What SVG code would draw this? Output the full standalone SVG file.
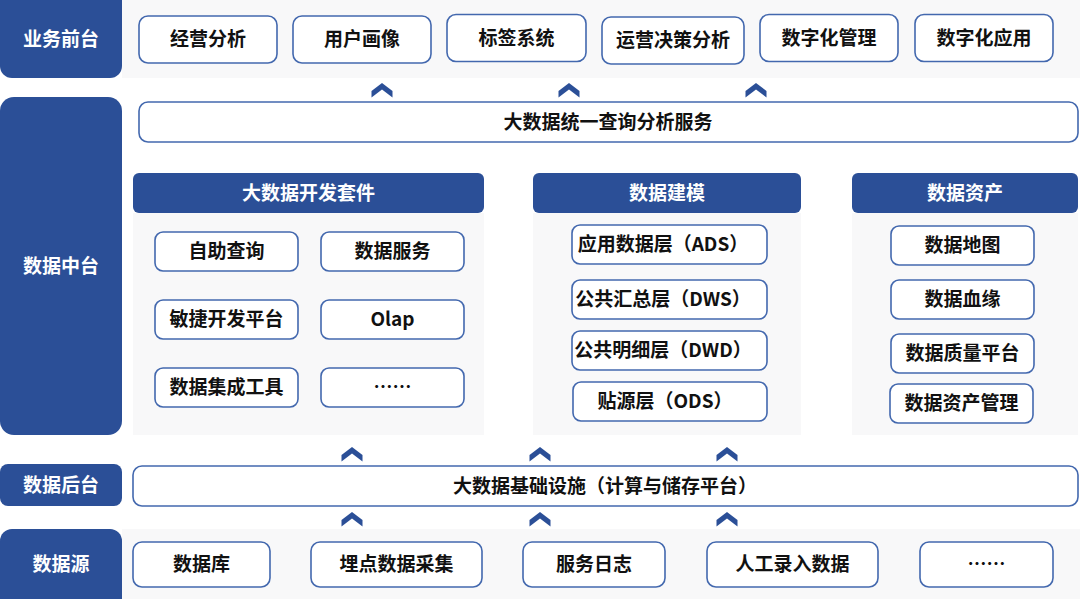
<svg xmlns="http://www.w3.org/2000/svg" width="1080" height="599" viewBox="0 0 1080 599">
<style>
.lab{fill:#2B4F97}
.band{fill:#F8F8F9}
.box{fill:#FFFFFF;stroke:#4368AE;stroke-width:1.6}
.hdr{fill:#2B4F97}
.lt{font-family:"Noto Sans CJK SC","Liberation Sans",sans-serif;font-weight:bold;font-size:19px;fill:#FFFFFF;text-anchor:middle;dominant-baseline:central}
.t{font-family:"Noto Sans CJK SC","Liberation Sans",sans-serif;font-weight:bold;font-size:19px;fill:#111111;text-anchor:middle;dominant-baseline:central}
.chev{fill:#2B4F97}
</style>
<defs>
<polygon id="chev" points="0,0 10.5,8 10.5,14.5 0,6.5 -10.5,14.5 -10.5,8"/>
</defs>
<rect width="1080" height="599" fill="#FFFFFF"/>
<rect class="band" x="122" y="0" width="958" height="78"/>
<rect class="band" x="122" y="529" width="958" height="70"/>
<rect class="band" x="133" y="213" width="351" height="222"/>
<rect class="band" x="533" y="213" width="268" height="222"/>
<rect class="band" x="852" y="213" width="226" height="222"/>

<g id="layer-front"><rect class="lab" x="0" y="-12" width="122" height="90" rx="12"/><text class="lt" x="61" y="37">业务前台</text></g>
<g id="layer-middle"><rect class="lab" x="0" y="97" width="122" height="338" rx="14"/><text class="lt" x="61" y="264">数据中台</text></g>
<g id="layer-back"><rect class="lab" x="0" y="464" width="122" height="42" rx="8"/><text class="lt" x="61" y="483">数据后台</text></g>
<g id="layer-source"><rect class="lab" x="0" y="529" width="122" height="84" rx="12"/><text class="lt" x="61" y="562">数据源</text></g>

<g id="front-1"><rect class="box" x="139" y="16" width="138" height="47" rx="9"/><text class="t" x="208" y="37.5">经营分析</text></g>
<g id="front-2"><rect class="box" x="293" y="16" width="138" height="47" rx="9"/><text class="t" x="362" y="37.5">用户画像</text></g>
<g id="front-3"><rect class="box" x="447" y="14.5" width="139" height="47" rx="9"/><text class="t" x="516.5" y="36">标签系统</text></g>
<g id="front-4"><rect class="box" x="602" y="17" width="142" height="47" rx="9"/><text class="t" x="673" y="38.5">运营决策分析</text></g>
<g id="front-5"><rect class="box" x="760" y="14.5" width="138" height="47" rx="9"/><text class="t" x="829" y="36">数字化管理</text></g>
<g id="front-6"><rect class="box" x="915" y="14.5" width="138" height="47" rx="9"/><text class="t" x="984" y="36">数字化应用</text></g>

<g id="query-service"><rect class="box" x="139" y="102" width="939" height="40" rx="9"/><text class="t" x="608" y="120">大数据统一查询分析服务</text></g>

<g id="dev-suite"><rect class="hdr" x="133" y="173" width="351" height="40" rx="6"/><text class="lt" x="308.5" y="191">大数据开发套件</text></g>
<g id="dev-1"><rect class="box" x="155" y="232" width="143" height="39" rx="8"/><text class="t" x="226.5" y="249.5">自助查询</text></g>
<g id="dev-2"><rect class="box" x="321" y="232" width="143" height="39" rx="8"/><text class="t" x="392.5" y="249.5">数据服务</text></g>
<g id="dev-3"><rect class="box" x="155" y="300" width="143" height="39" rx="8"/><text class="t" x="226.5" y="317.5">敏捷开发平台</text></g>
<g id="dev-4"><rect class="box" x="321" y="300" width="143" height="39" rx="8"/><text class="t" x="392.5" y="317.5">Olap</text></g>
<g id="dev-5"><rect class="box" x="155" y="368" width="143" height="39" rx="8"/><text class="t" x="226.5" y="385.5">数据集成工具</text></g>
<g id="dev-6"><rect class="box" x="321" y="368" width="143" height="39" rx="8"/><text class="t" x="392.5" y="385.5">……</text></g>

<g id="modeling"><rect class="hdr" x="533" y="173" width="268" height="40" rx="6"/><text class="lt" x="667" y="191">数据建模</text></g>
<g id="model-1"><rect class="box" x="572" y="225" width="195" height="39" rx="8"/><text class="t" x="663" y="242.5">应用数据层（ADS）</text></g>
<g id="model-2"><rect class="box" x="572" y="280" width="195" height="39" rx="8"/><text class="t" x="663" y="297.5">公共汇总层（DWS）</text></g>
<g id="model-3"><rect class="box" x="572" y="331" width="195" height="39" rx="8"/><text class="t" x="663" y="348.5">公共明细层（DWD）</text></g>
<g id="model-4"><rect class="box" x="573" y="382" width="194" height="39" rx="8"/><text class="t" x="665" y="399.5">贴源层（ODS）</text></g>

<g id="assets"><rect class="hdr" x="852" y="173" width="226" height="40" rx="6"/><text class="lt" x="965" y="191">数据资产</text></g>
<g id="asset-1"><rect class="box" x="891" y="226" width="143" height="39" rx="8"/><text class="t" x="962.5" y="243.5">数据地图</text></g>
<g id="asset-2"><rect class="box" x="891" y="280" width="143" height="39" rx="8"/><text class="t" x="962.5" y="297.5">数据血缘</text></g>
<g id="asset-3"><rect class="box" x="891" y="334" width="143" height="39" rx="8"/><text class="t" x="962.5" y="351.5">数据质量平台</text></g>
<g id="asset-4"><rect class="box" x="890" y="384" width="143" height="39" rx="8"/><text class="t" x="961.5" y="401.5">数据资产管理</text></g>

<g id="infra"><rect class="box" x="133" y="466" width="945" height="40" rx="9"/><text class="t" x="605" y="484">大数据基础设施（计算与储存平台）</text></g>

<g id="src-1"><rect class="box" x="133" y="542" width="137" height="45" rx="9"/><text class="t" x="201.5" y="562.5">数据库</text></g>
<g id="src-2"><rect class="box" x="311" y="542" width="171" height="45" rx="9"/><text class="t" x="396.5" y="562.5">埋点数据采集</text></g>
<g id="src-3"><rect class="box" x="523" y="542" width="142" height="45" rx="9"/><text class="t" x="594" y="562.5">服务日志</text></g>
<g id="src-4"><rect class="box" x="707" y="542" width="171" height="45" rx="9"/><text class="t" x="792.5" y="562.5">人工录入数据</text></g>
<g id="src-5"><rect class="box" x="920" y="542" width="133" height="45" rx="9"/><text class="t" x="986.5" y="562.5">……</text></g>

<g id="connectors" class="chev">
<use href="#chev" x="382" y="83"/>
<use href="#chev" x="569" y="83"/>
<use href="#chev" x="756" y="83"/>
<use href="#chev" x="352" y="447"/>
<use href="#chev" x="540" y="447"/>
<use href="#chev" x="727" y="447"/>
<use href="#chev" x="352" y="512"/>
<use href="#chev" x="540" y="512"/>
<use href="#chev" x="727" y="512"/>
</g>
</svg>
